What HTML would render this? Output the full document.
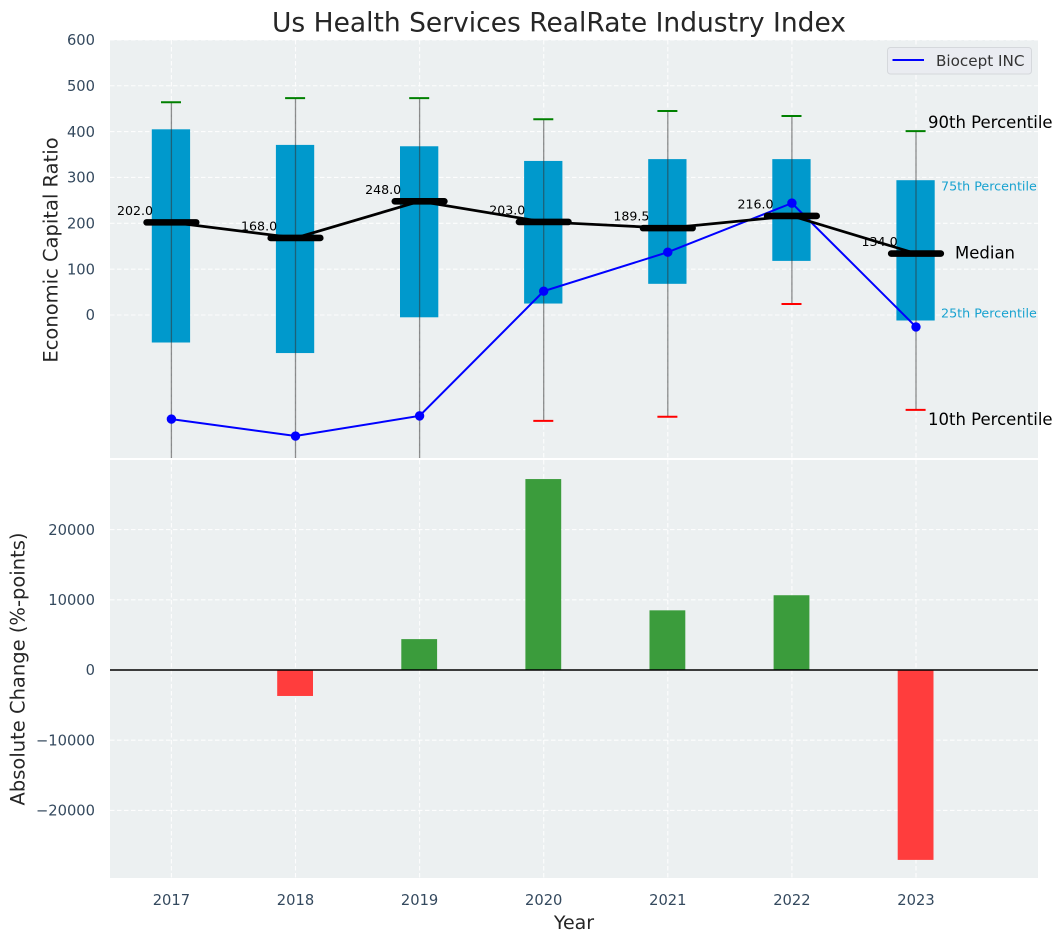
<!DOCTYPE html>
<html>
<head>
<meta charset="utf-8">
<style>
html,body{margin:0;padding:0;background:#fff;width:1063px;height:942px;overflow:hidden}
svg{display:block;font-family:"DejaVu Sans","Liberation Sans",sans-serif}
</style>
</head>
<body>
<svg id="chart" width="1063" height="942" viewBox="0 0 1063 942"></svg>
<script>
const years = [2017, 2018, 2019, 2020, 2021, 2022, 2023];
const p90 = [464, 473, 473, 427, 445, 434, 401];
const p75 = [405, 371, 368, 336, 340, 340, 294];
const medians = [202, 168, 248, 203, 189.5, 216, 134];
const p25 = [-60, -83, -5, 25, 68, 118, -12];
const p10 = [-400, -400, -400, -231, -222, 24, -207];
const biocept = [-227, -264, -220, 52, 137, 244, -26];
const changes = [0, -3700, 4400, 27200, 8500, 10650, -27050];
const upperTicks = [0, 100, 200, 300, 400, 500, 600];
const lowerTicks = [-20000, -10000, 0, 10000, 20000];

const NS = 'http://www.w3.org/2000/svg';
const svg = document.getElementById('chart');
const L = 110, R = 1038, T1 = 40, B1 = 458, T2 = 460, B2 = 878;
const xScale = v => 171.4 + (v - 2017) * 124.1;
const yUp = v => 315 - v * 0.4585;
const yLow = v => 670 - v * 0.00702;

function make(tag, attrs, parent, text) {
  const el = document.createElementNS(NS, tag);
  for (const k in attrs) el.setAttribute(k, attrs[k]);
  if (text !== undefined) el.textContent = text;
  (parent || svg).appendChild(el);
  return el;
}
function group(parent, name, clip) {
  const g = make('g', clip ? {'clip-path': clip} : {}, parent);
  
  
  return g;
}

const defs = make('defs', {});
const c1 = make('clipPath', {id: 'clip-upper'}, defs);
make('rect', {x: L, y: T1, width: R - L, height: B1 - T1}, c1);
const c2 = make('clipPath', {id: 'clip-lower'}, defs);
make('rect', {x: L, y: T2, width: R - L, height: B2 - T2}, c2);

const title = make('text', {x: 559, y: 31.5, 'text-anchor': 'middle', 'font-size': 26.5, fill: '#262626'}, svg, 'Us Health Services RealRate Industry Index');



const bgUp = make('rect', {x: L, y: T1, width: R - L, height: B1 - T1, fill: '#ecf0f1'});


const bgLow = make('rect', {x: L, y: T2, width: R - L, height: B2 - T2, fill: '#ecf0f1'});



const gridG = group(svg, 'grid-lines');
const grid = {stroke: '#fff', 'stroke-width': 1.1, 'stroke-dasharray': '4.5 2.5', opacity: 0.9};
years.forEach(y => {
  make('line', {x1: xScale(y), x2: xScale(y), y1: T1, y2: B1, ...grid}, gridG);
  make('line', {x1: xScale(y), x2: xScale(y), y1: T2, y2: B2, ...grid}, gridG);
});
upperTicks.forEach(v => make('line', {x1: L, x2: R, y1: yUp(v), y2: yUp(v), ...grid}, gridG));
lowerTicks.forEach(v => make('line', {x1: L, x2: R, y1: yLow(v), y2: yLow(v), ...grid}, gridG));

const tickStyle = {'font-size': 14.7, fill: '#34495e'};
const yTicksUp = group(svg, 'upper-y-axis-ticks');
upperTicks.forEach(v => make('text', {x: 95, y: yUp(v) + 5.2, 'text-anchor': 'end', ...tickStyle}, yTicksUp, String(v)));
const yTicksLow = group(svg, 'lower-y-axis-ticks');
lowerTicks.forEach(v => make('text', {x: 95, y: yLow(v) + 5.2, 'text-anchor': 'end', ...tickStyle}, yTicksLow, String(v).replace('-', '\u2212')));
const xTicks = group(svg, 'x-axis-ticks');
years.forEach(y => make('text', {x: xScale(y), y: 905, 'text-anchor': 'middle', ...tickStyle}, xTicks, String(y)));

const upper = group(svg, 'percentile-plot', 'url(#clip-upper)');
years.forEach((y, i) => {
  const x = xScale(y);
  const box = make('rect', {x: x - 19.6, y: yUp(p75[i]), width: 38.3, height: yUp(p25[i]) - yUp(p75[i]), fill: '#0099cc'}, upper);
  
  
  const whisker = make('line', {x1: x, x2: x, y1: yUp(p90[i]), y2: yUp(p10[i]), stroke: '#333', 'stroke-opacity': 0.55, 'stroke-width': 1.3}, upper);
  
  
  const capHi = make('line', {x1: x - 10.4, x2: x + 9.6, y1: yUp(p90[i]), y2: yUp(p90[i]), stroke: '#008000', 'stroke-width': 2}, upper);
  
  
  const capLo = make('line', {x1: x - 10.4, x2: x + 9.6, y1: yUp(p10[i]), y2: yUp(p10[i]), stroke: '#ff0000', 'stroke-width': 2}, upper);
  
  
});

const bluePts = years.map((y, i) => xScale(y) + ',' + yUp(biocept[i])).join(' ');
const blueLine = make('polyline', {points: bluePts, fill: 'none', stroke: '#0000ff', 'stroke-width': 2}, upper);


years.forEach((y, i) => {
  const dot = make('circle', {cx: xScale(y), cy: yUp(biocept[i]), r: 4.7, fill: '#0000ff'}, upper);
  
  
});

const medLabels = group(svg, 'median-value-labels');
years.forEach((y, i) => make('text', {x: xScale(y) - 18.4, y: yUp(medians[i]) - 7.4, 'text-anchor': 'end', 'font-size': 12.6, fill: '#000'}, medLabels, medians[i].toFixed(1)));

const medPts = years.map((y, i) => xScale(y) + ',' + yUp(medians[i])).join(' ');
const medLine = make('polyline', {points: medPts, fill: 'none', stroke: '#000', 'stroke-width': 2.7}, upper);


years.forEach((y, i) => {
  const bar = make('line', {x1: xScale(y) - 24.8, x2: xScale(y) + 24.8, y1: yUp(medians[i]), y2: yUp(medians[i]), stroke: '#000', 'stroke-width': 6.6, 'stroke-linecap': 'round'}, upper);
  
  
});

const ann = group(svg, 'percentile-annotations');
make('text', {x: 928, y: 128, 'font-size': 16.5, fill: '#000'}, ann, '90th Percentile');
make('text', {x: 941, y: 190.5, 'font-size': 12.7, fill: '#0099cc', 'fill-opacity': 0.9}, ann, '75th Percentile');
make('text', {x: 955, y: 258.5, 'font-size': 16.5, fill: '#000'}, ann, 'Median');
make('text', {x: 941, y: 317.5, 'font-size': 12.7, fill: '#0099cc', 'fill-opacity': 0.9}, ann, '25th Percentile');
make('text', {x: 928, y: 425, 'font-size': 16.5, fill: '#000'}, ann, '10th Percentile');

const legend = group(svg, 'legend');
make('rect', {x: 887.5, y: 47.5, width: 144, height: 26.5, rx: 3, fill: '#eaecf1', stroke: '#d5d8dc', 'stroke-width': 1}, legend);
make('line', {x1: 892.5, x2: 924, y1: 60, y2: 60, stroke: '#0000ff', 'stroke-width': 2}, legend);
make('text', {x: 936, y: 66, 'font-size': 15.2, fill: '#333'}, legend, 'Biocept INC');

const lower = group(svg, 'change-bars', 'url(#clip-lower)');
years.forEach((y, i) => {
  const v = changes[i];
  if (v === 0) return;
  const top = Math.min(yLow(v), yLow(0));
  const bar = make('rect', {x: xScale(y) - 18.3, y: top, width: 35.8, height: Math.abs(yLow(v) - yLow(0)), fill: v > 0 ? '#3b9c3c' : '#ff3d3d'}, lower);
  
  
});
const zero = make('line', {x1: L, x2: R, y1: yLow(0), y2: yLow(0), stroke: '#000', 'stroke-width': 1.6});



const labelUp = make('text', {transform: 'translate(57.5,250) rotate(-90)', 'text-anchor': 'middle', 'font-size': 19.5, fill: '#262626'}, svg, 'Economic Capital Ratio');


const labelLow = make('text', {transform: 'translate(24.5,669) rotate(-90)', 'text-anchor': 'middle', 'font-size': 19.5, fill: '#262626'}, svg, 'Absolute Change (%-points)');


const labelX = make('text', {x: 574, y: 929, 'text-anchor': 'middle', 'font-size': 19, fill: '#262626'}, svg, 'Year');


</script>
</body>
</html>
